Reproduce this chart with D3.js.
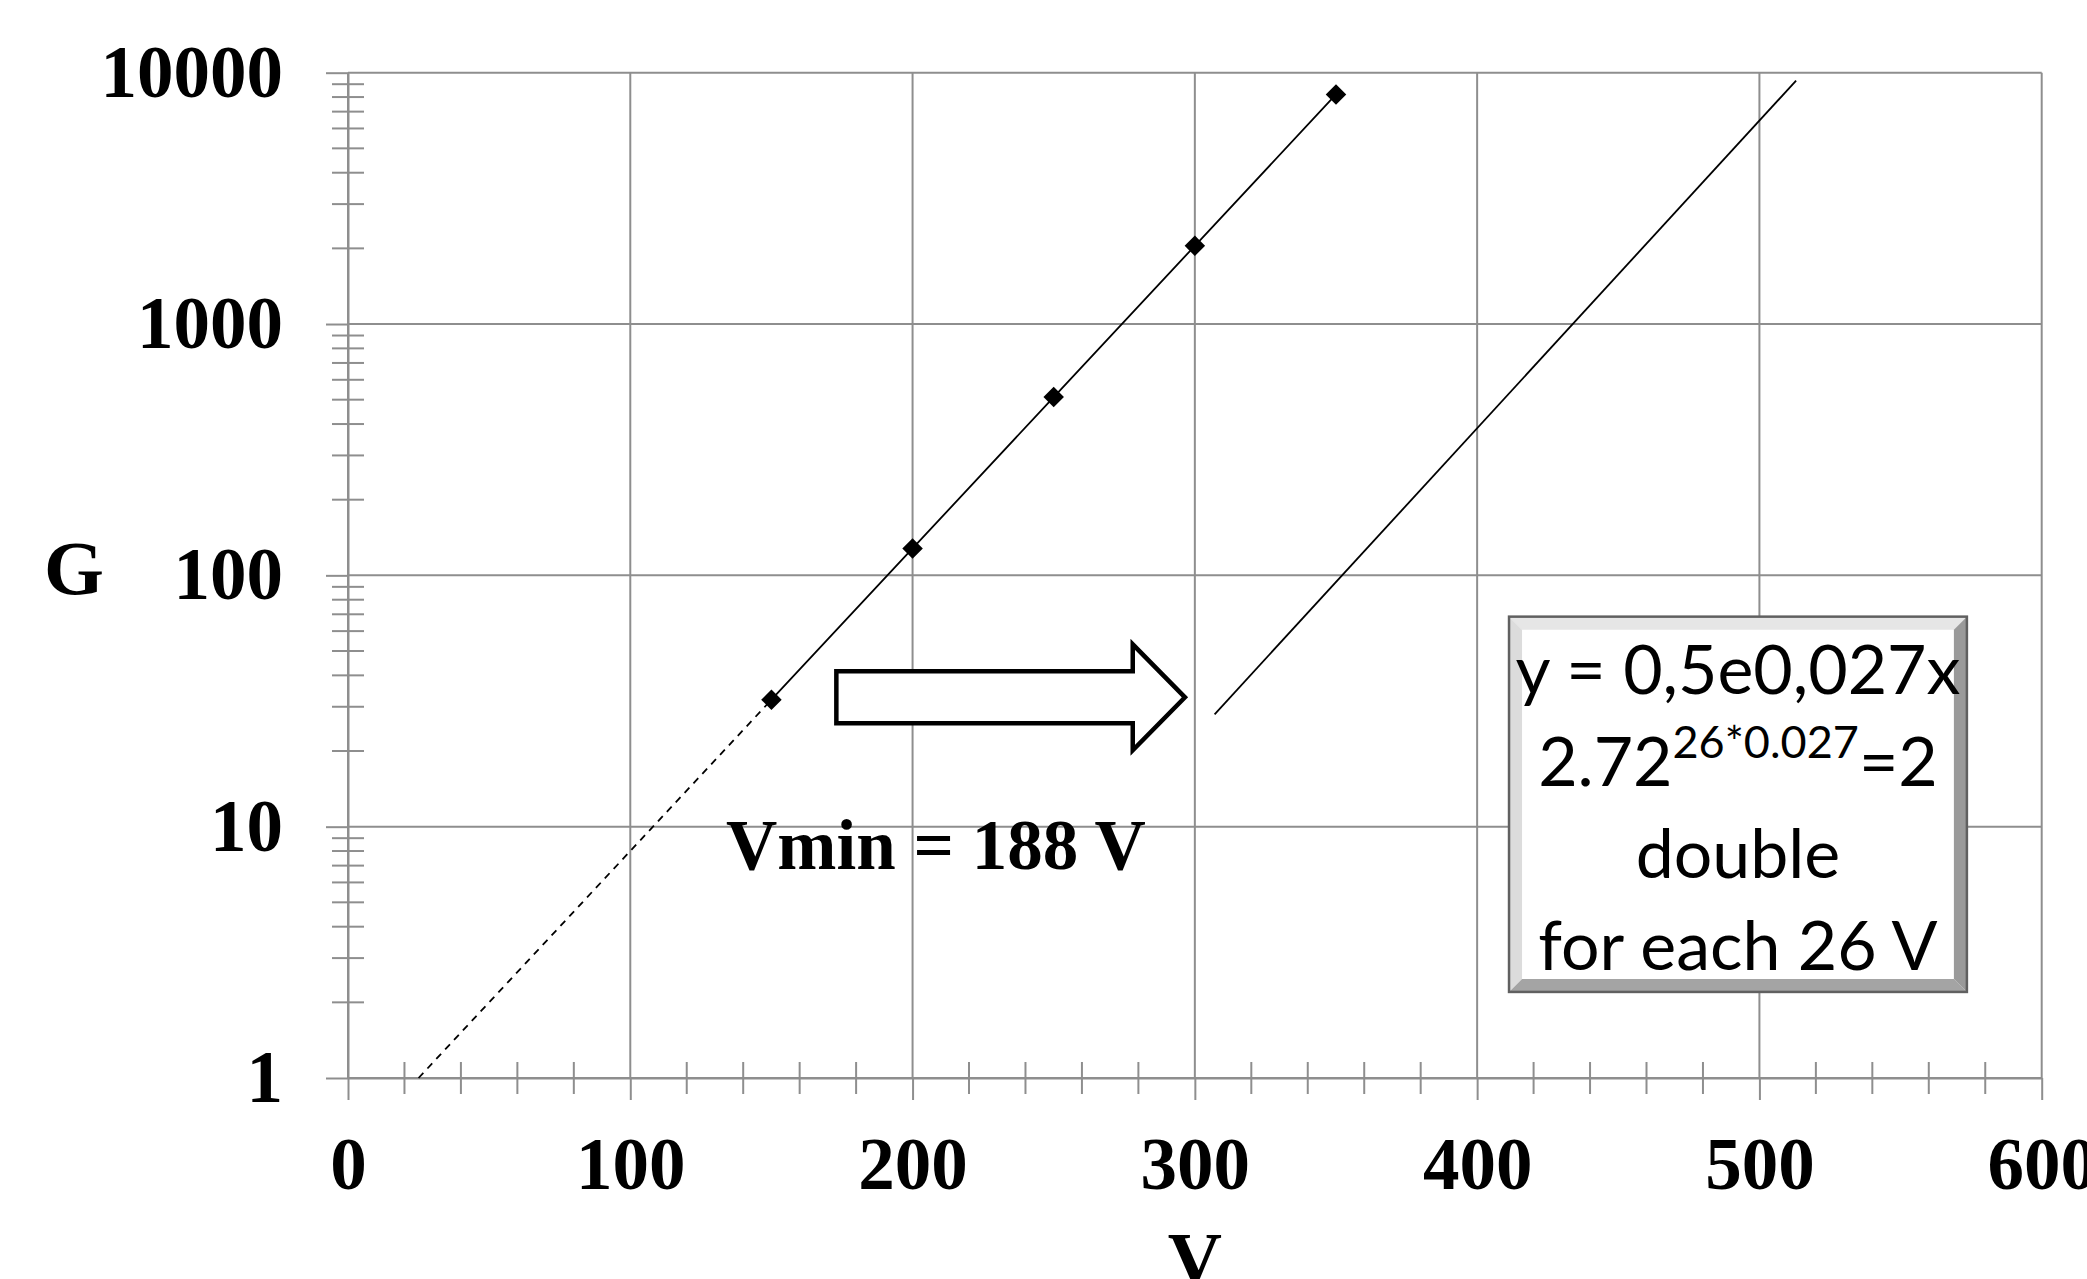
<!DOCTYPE html>
<html>
<head>
<meta charset="utf-8">
<script src="https://cdn.jsdelivr.net/npm/d3@7"></script>
<style>
  body { margin: 0; background: #fff; }
  svg { display: block; }
  .tick-lbl text, .axis-title, .vmin { font-family: "Liberation Serif", "Times New Roman", serif; font-weight: bold; fill: #000; }
  .note { font-family: Lato, "Open Sans", sans-serif; fill: #000; }
</style>
</head>
<body>
<script>
// data
let vTicks = [0, 100, 200, 300, 400, 500, 600]
let gTicks = [1, 10, 100, 1000, 10000]

// measured points (V, G)
let measV = [150, 200, 250, 300, 350]
let measG = [32, 128, 512, 2048, 8192]

// dashed extrapolation down to G = 1
let extrapV = [25, 150]
let extrapG = [1, 32]

// shifted curve
let shiftV = [307, 513]
let shiftG = [28, 9300]

let boxLines = ['y = 0,5e0,027x', '', 'double', 'for each 26 V']

let svgWidth = 2087
let svgHeight = 1279
let margin = {top: 72.7, left: 348, right: 45.3, bottom: 201}
let innerWidth = svgWidth - margin.left - margin.right
let innerHeight = svgHeight - margin.top - margin.bottom

let svg = d3.select('body').append('svg')
    .attr('width', svgWidth)
    .attr('height', svgHeight)

let inner = svg.append('g')
    .attr('transform', 'translate(' + margin.left + ',' + margin.top + ')')

let xScale = d3.scaleLinear().domain([0, 600]).range([0, innerWidth])
let yScale = d3.scaleLog().domain([1, 10000]).range([innerHeight, 0])

let gridColor = '#8e8e8e'

// grid lines
inner.selectAll('.vgrid').data(vTicks).join('line')
    .attr('x1', d => xScale(d)).attr('x2', d => xScale(d))
    .attr('y1', 0).attr('y2', innerHeight)
    .attr('stroke', gridColor).attr('stroke-width', 2)
inner.selectAll('.hgrid').data(gTicks).join('line')
    .attr('x1', 0).attr('x2', innerWidth)
    .attr('y1', d => yScale(d)).attr('y2', d => yScale(d))
    .attr('stroke', gridColor).attr('stroke-width', 2)

// minor ticks
let minorG = []
gTicks.slice(0, -1).forEach(p => { for (let k = 2; k <= 9; k++) minorG.push(p * k) })
inner.selectAll('.minor-y').data(minorG).join('line')
    .attr('x1', -16).attr('x2', 16)
    .attr('y1', d => yScale(d)).attr('y2', d => yScale(d))
    .attr('stroke', gridColor).attr('stroke-width', 2)

let minorV = d3.range(0, 601, 20).filter(d => d % 100 != 0)
inner.selectAll('.minor-x').data(minorV).join('line')
    .attr('x1', d => xScale(d)).attr('x2', d => xScale(d))
    .attr('y1', innerHeight - 16).attr('y2', innerHeight + 16)
    .attr('stroke', gridColor).attr('stroke-width', 2)

// axes
let xAxis = d3.axisBottom(xScale).tickValues(vTicks).tickSize(22).tickSizeOuter(0).tickPadding(37)
let yAxis = d3.axisLeft(yScale).tickValues(gTicks).tickSize(22).tickSizeOuter(0).tickPadding(43)
    .tickFormat(d3.format('d'))

let xg = inner.append('g').classed('tick-lbl', true)
    .attr('transform', 'translate(0,' + innerHeight + ')')
    .call(xAxis)
let yg = inner.append('g').classed('tick-lbl', true).call(yAxis)

;[xg, yg].forEach(g => {
    g.select('.domain').attr('stroke', gridColor).attr('stroke-width', 2)
    g.selectAll('.tick line').attr('stroke', gridColor).attr('stroke-width', 2)
    g.selectAll('.tick text').attr('font-size', 73).attr('fill', '#000')
})

// axis titles
inner.append('text').classed('axis-title', true)
    .attr('x', -274).attr('y', 521)
    .attr('text-anchor', 'middle').attr('font-size', 77)
    .text('G')
inner.append('text').classed('axis-title', true)
    .attr('x', innerWidth / 2).attr('y', innerHeight + 206)
    .attr('text-anchor', 'middle').attr('font-size', 75)
    .text('V')

// lines
let line = d3.line().x(d => xScale(d[0])).y(d => yScale(d[1]))

inner.append('path')
    .datum(d3.zip(extrapV, extrapG))
    .attr('d', line)
    .attr('fill', 'none').attr('stroke', '#000').attr('stroke-width', 1.8)
    .attr('stroke-dasharray', '7,6')

inner.append('path')
    .datum(d3.zip(measV, measG))
    .attr('d', line)
    .attr('fill', 'none').attr('stroke', '#000').attr('stroke-width', 1.8)

inner.append('path')
    .datum(d3.zip(shiftV, shiftG))
    .attr('d', line)
    .attr('fill', 'none').attr('stroke', '#000').attr('stroke-width', 1.8)

// markers
let diamond = d3.symbol().type(d3.symbolSquare).size(210)
inner.selectAll('.pt').data(d3.zip(measV, measG)).join('path')
    .attr('d', diamond)
    .attr('transform', d => 'translate(' + xScale(d[0]) + ',' + yScale(d[1]) + ') rotate(45)')
    .attr('fill', '#000')

// block arrow
let arrowTail = 173, arrowHead = 278, arrowTip = 296.5, arrowG = 32.7
let ay = yScale(arrowG)
let arrowPts = [
    [xScale(arrowTail), ay - 26], [xScale(arrowHead), ay - 26], [xScale(arrowHead), ay - 53],
    [xScale(arrowTip), ay], [xScale(arrowHead), ay + 53], [xScale(arrowHead), ay + 26],
    [xScale(arrowTail), ay + 26]
]
inner.append('polygon')
    .attr('points', arrowPts.map(p => p.join(',')).join(' '))
    .attr('fill', '#fff').attr('stroke', '#000').attr('stroke-width', 4.5)
    .attr('stroke-linejoin', 'miter')

// Vmin note
inner.append('text').classed('vmin', true)
    .attr('x', xScale(208.3)).attr('y', yScale(6.8))
    .attr('text-anchor', 'middle').attr('font-size', 71)
    .text('Vmin = 188 V')

// bevelled text box
let bx0 = xScale(411.3), bx1 = xScale(573.5)
let by0 = yScale(68.5), by1 = yScale(2.2)
let bev = 13
let box = inner.append('g')
box.append('rect')
    .attr('x', bx0).attr('y', by0).attr('width', bx1 - bx0).attr('height', by1 - by0)
    .attr('fill', '#fff')
let bevels = [
    {c: '#e6e6e6', p: [[bx0, by0], [bx1, by0], [bx1 - bev, by0 + bev], [bx0 + bev, by0 + bev]]},
    {c: '#dcdcdc', p: [[bx0, by0], [bx0 + bev, by0 + bev], [bx0 + bev, by1 - bev], [bx0, by1]]},
    {c: '#9a9a9a', p: [[bx1, by0], [bx1, by1], [bx1 - bev, by1 - bev], [bx1 - bev, by0 + bev]]},
    {c: '#a4a4a4', p: [[bx0, by1], [bx0 + bev, by1 - bev], [bx1 - bev, by1 - bev], [bx1, by1]]}
]
box.selectAll('.bevel').data(bevels).join('polygon')
    .attr('points', d => d.p.map(p => p.join(',')).join(' '))
    .attr('fill', d => d.c)
box.append('rect')
    .attr('x', bx0).attr('y', by0).attr('width', bx1 - bx0).attr('height', by1 - by0)
    .attr('fill', 'none').attr('stroke', '#606060').attr('stroke-width', 2.5)

let bcx = (bx0 + bx1) / 2
let baseY = by0 + 77
let lineGap = 92
boxLines.forEach((t, i) => {
    let tx = box.append('text').classed('note', true)
        .attr('x', bcx).attr('y', baseY + i * lineGap)
        .attr('text-anchor', 'middle').attr('font-size', 68)
    if (i == 1) {
        tx.append('tspan').text('2.72')
        tx.append('tspan').attr('dy', -28).attr('font-size', 45).text('26*0.027')
        tx.append('tspan').attr('dy', 28).text('=2')
    } else {
        tx.text(t)
    }
})
</script>
</body>
</html>
